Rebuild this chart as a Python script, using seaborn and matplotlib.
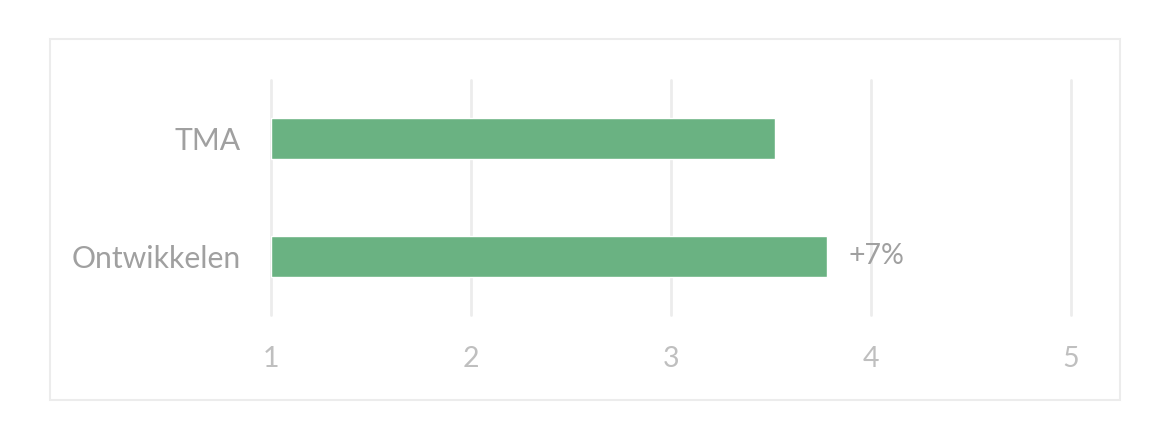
import matplotlib
matplotlib.use("Agg")
import matplotlib.pyplot as plt
import seaborn as sns
import pandas as pd
from matplotlib.patches import Rectangle

# Data
categories = ["TMA", "Ontwikkelen"]
scores = [3.52, 3.78]
bar_labels = ["", "+7%"]
x_ticks = [1, 2, 3, 4, 5]

df = pd.DataFrame({"Categorie": categories, "Score": scores})

sns.set_style("white")
plt.rcParams["font.family"] = ["Lato", "DejaVu Sans"]

fig = plt.figure(figsize=(11.5, 4.34), dpi=100)
ax = fig.add_axes([271 / 1150, 119 / 434, 800 / 1150, 235 / 434])

# light frame around the chart
fig.patches.append(Rectangle((50 / 1150, 34 / 434), 1070 / 1150, 361 / 434,
                             transform=fig.transFigure, fill=False,
                             edgecolor="#ececec", linewidth=1.5))

sns.barplot(data=df, y="Categorie", x="Score", color="#6ab282",
            width=0.35, saturation=1, ax=ax, orient="h")

# bars start at 1 (axis minimum), so redraw from 1
for patch, val in zip(ax.patches, scores):
    patch.set_x(1)
    patch.set_width(val - 1)

for patch, lab in zip(ax.patches, bar_labels):
    if lab:
        ax.text(patch.get_x() + patch.get_width() + 0.105,
                patch.get_y() + patch.get_height() / 2, lab,
                va="center", ha="left", fontsize=20.5, color="#a0a0a0")

ax.set_xlim(1, 5)
ax.set_ylim(1.5, -0.5)
ax.set_xticks(x_ticks)
ax.set_xticklabels([str(t) for t in x_ticks])
ax.xaxis.grid(True, color="#ececec", linewidth=2)
for gl in ax.get_xgridlines():
    gl.set_clip_on(False)
ax.set_axisbelow(True)
ax.set_xlabel("")
ax.set_ylabel("")
for s in ax.spines.values():
    s.set_visible(False)
ax.tick_params(axis="x", length=0, pad=22, labelsize=20.5, labelcolor="#bfbfbf")
ax.tick_params(axis="y", length=0, pad=22, labelsize=21.7, labelcolor="#a0a0a0")

fig.savefig("out.png", dpi=100)
